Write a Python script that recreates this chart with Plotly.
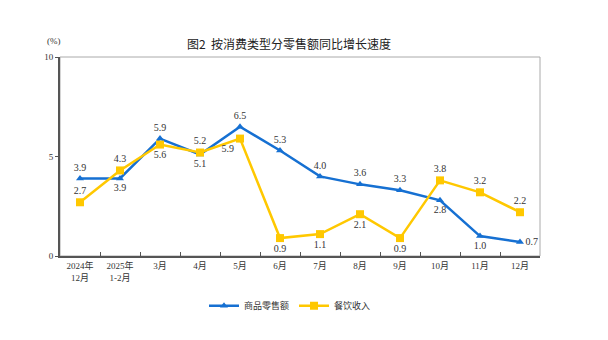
import plotly.graph_objects as go

categories = ["2024年<br>12月", "2025年<br>1-2月", "3月", "4月", "5月", "6月", "7月", "8月", "9月", "10月", "11月", "12月"]
retail = [3.9, 3.9, 5.9, 5.1, 6.5, 5.3, 4.0, 3.6, 3.3, 2.8, 1.0, 0.7]
catering = [2.7, 4.3, 5.6, 5.2, 5.9, 0.9, 1.1, 2.1, 0.9, 3.8, 3.2, 2.2]
retail_pos = ["top center", "bottom center", "top center", "bottom center", "top center", "top center",
              "top center", "top center", "top center", "bottom center", "bottom center", "middle right"]
catering_pos = ["top center", "top center", "bottom center", "top center", "bottom left", "bottom center",
                "bottom center", "bottom center", "bottom center", "top center", "top center", "top center"]

BLUE = "#1670D2"
YELLOW = "#FFC800"
FONT = "Liberation Serif, Noto Sans CJK SC, serif"

fig = go.Figure()
fig.add_trace(go.Scatter(
    x=categories, y=retail, name="商品零售额", mode="lines+markers+text",
    line=dict(color=BLUE, width=2.5),
    marker=dict(symbol="triangle-up", size=7, color=BLUE),
    text=[f"{v:.1f}" for v in retail], textposition=retail_pos,
    textfont=dict(family=FONT, size=10, color="#333333"),
))
fig.add_trace(go.Scatter(
    x=categories, y=catering, name="餐饮收入", mode="lines+markers+text",
    line=dict(color=YELLOW, width=2.5),
    marker=dict(symbol="square", size=8, color=YELLOW),
    text=[f"{v:.1f}" for v in catering], textposition=catering_pos,
    textfont=dict(family=FONT, size=10, color="#333333"),
))

fig.update_layout(
    width=608, height=340,
    margin=dict(l=60, r=68, t=57, b=84),
    paper_bgcolor="white", plot_bgcolor="white",
    font=dict(family=FONT, size=9, color="#333333"),
    showlegend=True,
    legend=dict(orientation="h", x=0.30, y=-0.25, xanchor="left", yanchor="middle",
                font=dict(size=9, family=FONT), itemwidth=30, traceorder="normal"),
    annotations=[
        dict(text="图2  按消费类型分零售额同比增长速度", x=0.477, y=1.12, xref="paper", yref="paper",
             showarrow=False, font=dict(size=12, family="Noto Sans CJK SC", color="#222222")),
        dict(text="(%)", x=-0.0125, y=1.045, xref="paper", yref="paper", showarrow=False,
             xanchor="center", yanchor="bottom",
             font=dict(size=9, family=FONT, color="#333333")),
    ],
)
fig.update_xaxes(
    type="category", range=[-0.5, 11.5], showline=True, linecolor="#555555", linewidth=2,
    mirror=False, ticks="inside", tickson="boundaries", ticklen=4, tickcolor="#555555",
    showgrid=False, tickfont=dict(size=9, family=FONT),
)
fig.update_yaxes(
    range=[0, 10], tickvals=[0, 5, 10], showline=True, linecolor="#555555", linewidth=2,
    ticks="outside", ticklen=3, tickcolor="#555555", showgrid=False, zeroline=False,
    tickfont=dict(size=9, family=FONT),
)
fig.add_shape(type="rect", xref="paper", yref="paper", x0=0, y0=0, x1=1, y1=1,
              line=dict(color="#AAAAAA", width=1), layer="below")

fig.write_html("out.html")
